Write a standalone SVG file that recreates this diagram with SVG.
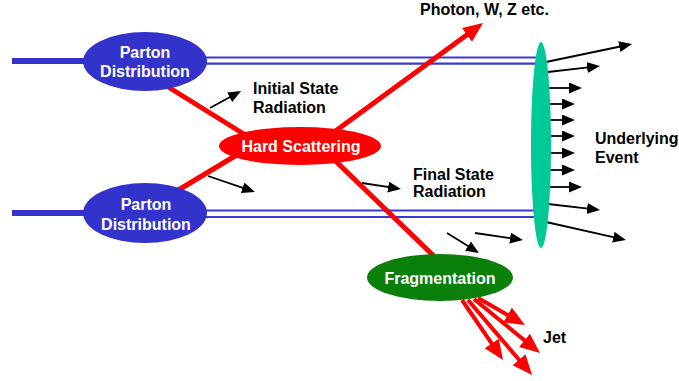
<svg xmlns="http://www.w3.org/2000/svg" width="679" height="381" viewBox="0 0 679 381">
<style>
text{font-family:"Liberation Sans",Arial,sans-serif;font-weight:bold;font-size:16px}
.w{fill:#fff}
.k{fill:#000}
.blk{stroke:#000;stroke-width:1.8;fill:none;marker-end:url(#ah)}
.red{stroke:#f00;stroke-width:5;fill:none}
.jet{stroke:#f00;stroke-width:4;fill:none;marker-end:url(#rh)}
.beam{stroke:#3333cc;stroke-width:6}
.dbl{stroke:#3a3ad2;stroke-width:2.2}
</style>
<defs>
<marker id="ah" markerUnits="userSpaceOnUse" markerWidth="14" markerHeight="12" refX="1" refY="5.5" orient="auto"><path d="M0,0 L13,5.5 L0,11 z" fill="#000"/></marker>
<marker id="rh" markerUnits="userSpaceOnUse" markerWidth="21" markerHeight="18" refX="1" refY="8.5" orient="auto"><path d="M0,0 L20,8.5 L0,17 z" fill="#f00"/></marker>
</defs>
<g id="beams">
<line class="beam" x1="12" y1="61" x2="90" y2="61"/>
<line class="beam" x1="12" y1="213" x2="90" y2="213"/>
<line class="dbl" x1="200" y1="57.5" x2="540" y2="57.5"/>
<line class="dbl" x1="200" y1="63.7" x2="540" y2="63.7"/>
<line class="dbl" x1="200" y1="210.5" x2="540" y2="210.5"/>
<line class="dbl" x1="200" y1="217" x2="540" y2="217"/>
</g>
<g id="connectors">
<line class="red" x1="165" y1="85" x2="255" y2="141"/>
<line class="red" x1="175" y1="192" x2="245" y2="150"/>
<line class="red" x1="320" y1="146" x2="440" y2="262"/>
<line class="red" x1="315" y1="146" x2="467.7" y2="34.2" style="marker-end:url(#rh)"/>
<line class="blk" x1="210" y1="108" x2="230.5" y2="96.8"/>
<line class="blk" x1="208" y1="176" x2="243.6" y2="188.1"/>
<line class="blk" x1="362" y1="183" x2="389.1" y2="187.2"/>
<line class="blk" x1="447" y1="233" x2="468.8" y2="246.6"/>
<line class="blk" x1="475" y1="233" x2="511.1" y2="238.3"/>
<line class="jet" x1="478" y1="298" x2="508.5" y2="315.5"/>
<line class="jet" x1="474" y1="299" x2="525.3" y2="341"/>
<line class="jet" x1="462" y1="300" x2="492.3" y2="344.3"/>
<line class="jet" x1="468" y1="300" x2="519.7" y2="360.5"/>
</g>
<g id="underlying-arrows">
<line class="blk" x1="546" y1="62" x2="620.3" y2="46.5"/>
<line class="blk" x1="548" y1="72" x2="588.1" y2="67.4"/>
<line class="blk" x1="549" y1="88" x2="570" y2="88"/>
<line class="blk" x1="549" y1="104" x2="563" y2="104"/>
<line class="blk" x1="549" y1="120" x2="563" y2="120"/>
<line class="blk" x1="549" y1="136" x2="563" y2="136"/>
<line class="blk" x1="549" y1="153" x2="563" y2="153"/>
<line class="blk" x1="549" y1="170" x2="563" y2="170"/>
<line class="blk" x1="549" y1="187" x2="570" y2="187"/>
<line class="blk" x1="548" y1="204" x2="588.1" y2="208.6"/>
<line class="blk" x1="546" y1="222" x2="614.3" y2="237.4"/>
</g>
<g id="parton-top">
<ellipse cx="145" cy="61.5" rx="62" ry="29.5" fill="#3333cc"/>
<text class="w" x="145" y="58" text-anchor="middle">Parton</text>
<text class="w" x="145" y="77" text-anchor="middle">Distribution</text>
</g>
<g id="parton-bottom">
<ellipse cx="145" cy="213" rx="62" ry="30" fill="#3333cc"/>
<text class="w" x="146" y="210" text-anchor="middle">Parton</text>
<text class="w" x="146" y="230" text-anchor="middle">Distribution</text>
</g>
<g id="hard-scattering">
<ellipse cx="300" cy="146" rx="81" ry="19" fill="#f00"/>
<text class="w" x="301" y="152" text-anchor="middle">Hard Scattering</text>
</g>
<g id="fragmentation">
<ellipse cx="440" cy="277.5" rx="73" ry="23.5" fill="#0a7f0a"/>
<text class="w" x="440" y="284" text-anchor="middle">Fragmentation</text>
</g>
<g id="underlying-event">
<ellipse cx="541" cy="145" rx="10" ry="103" fill="#00c896"/>
<text class="k" x="595" y="144">Underlying</text>
<text class="k" x="595" y="163">Event</text>
</g>
<g id="labels">
<text class="k" x="253" y="94">Initial State</text>
<text class="k" x="253" y="113">Radiation</text>
<text class="k" x="420" y="15">Photon, W, Z etc.</text>
<text class="k" x="413" y="180">Final State</text>
<text class="k" x="413" y="197">Radiation</text>
<text class="k" x="543" y="343">Jet</text>
</g>
</svg>
